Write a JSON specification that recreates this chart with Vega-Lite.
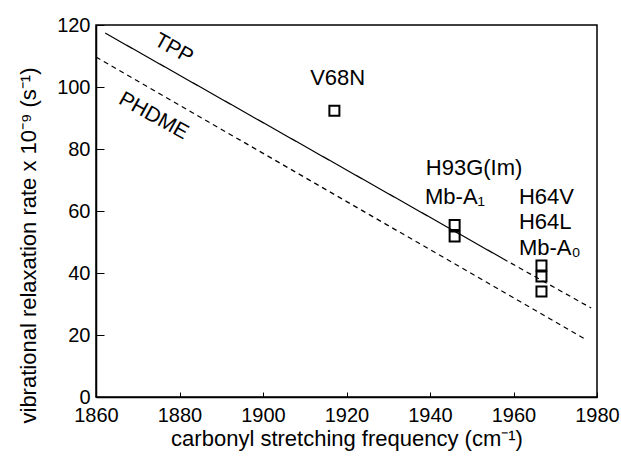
{
  "$schema": "https://vega.github.io/schema/vega-lite/v6.json",
  "width": 501,
  "height": 372,
  "autosize": "none",
  "padding": {"left": 96, "top": 25, "right": 24, "bottom": 65},
  "background": "white",
  "config": {
    "font": "Liberation Sans",
    "view": {"stroke": "black", "strokeWidth": 1.5},
    "axis": {
      "grid": false,
      "domainColor": "black",
      "domainWidth": 1.5,
      "tickColor": "black",
      "tickWidth": 1,
      "labelColor": "black",
      "labelFontSize": 20,
      "labelFont": "Liberation Sans",
      "titleFont": "Liberation Sans",
      "titleFontSize": 22,
      "titleFontWeight": "normal",
      "titleColor": "black",
      "labelFlush": false,
      "labelOverlap": false
    }
  },
  "datasets": {
    "lines": [
      {"segment": "TPP", "style": "solid", "freq": 1862.2, "rate": 117.4},
      {"segment": "TPP", "style": "solid", "freq": 1957.5, "rate": 44.6},
      {"segment": "TPP ext", "style": "dashed", "freq": 1957.5, "rate": 44.6},
      {"segment": "TPP ext", "style": "dashed", "freq": 1978.6, "rate": 28.7},
      {"segment": "PHDME", "style": "dashed", "freq": 1860, "rate": 109.7},
      {"segment": "PHDME", "style": "dashed", "freq": 1977.1, "rate": 18.7}
    ],
    "points": [
      {"sample": "V68N", "freq": 1917.1, "rate": 92.3},
      {"sample": "H93G(Im)", "freq": 1945.9, "rate": 55.5},
      {"sample": "Mb-A1", "freq": 1945.9, "rate": 51.8},
      {"sample": "H64V", "freq": 1966.7, "rate": 42.4},
      {"sample": "H64L", "freq": 1966.7, "rate": 38.9},
      {"sample": "Mb-A0", "freq": 1966.7, "rate": 34.0}
    ],
    "labels": [
      {"label": "V68N", "freq": 1911.3, "rate": 102.9},
      {"label": "H93G(Im)", "freq": 1939.0, "rate": 73.9},
      {"label": "Mb-A₁", "freq": 1938.8, "rate": 64.5},
      {"label": "H64V", "freq": 1961.3, "rate": 64.5},
      {"label": "H64L", "freq": 1961.3, "rate": 56.3},
      {"label": "Mb-A₀", "freq": 1961.3, "rate": 48.2}
    ],
    "lineLabels": [
      {"label": "TPP", "freq": 1878.6, "rate": 112.3},
      {"label": "PHDME", "freq": 1873.8, "rate": 90.6}
    ]
  },
  "layer": [
    {
      "data": {"name": "lines"},
      "mark": {"type": "line", "color": "black", "strokeWidth": 1.2},
      "encoding": {
        "x": {
          "field": "freq", "type": "quantitative",
          "scale": {"domain": [1860, 1980], "nice": false, "zero": false},
          "axis": {
            "values": [1860, 1880, 1900, 1920, 1940, 1960, 1980],
            "format": "d",
            "tickSize": -5, "labelPadding": 13,
            "title": "carbonyl stretching frequency (cm⁻¹)",
            "titleY": 48, "titleBaseline": "alphabetic"
          }
        },
        "y": {
          "field": "rate", "type": "quantitative",
          "scale": {"domain": [0, 120], "nice": false},
          "axis": {
            "values": [0, 20, 40, 60, 80, 100, 120],
            "tickSize": -8, "labelPadding": 14,
            "title": "vibrational relaxation rate x 10⁻⁹ (s⁻¹)",
            "titleX": -61, "titleY": 220, "titleBaseline": "alphabetic", "titleAlign": "center", "titleAngle": -90
          }
        },
        "detail": {"field": "segment"},
        "strokeDash": {
          "field": "style", "type": "nominal",
          "scale": {"domain": ["solid", "dashed"], "range": [[1, 0], [5, 4]]},
          "legend": null
        }
      }
    },
    {
      "data": {"name": "points"},
      "mark": {"type": "point", "shape": "square", "filled": false, "stroke": "black", "strokeWidth": 2, "size": 100, "opacity": 1},
      "encoding": {
        "x": {"field": "freq", "type": "quantitative"},
        "y": {"field": "rate", "type": "quantitative"}
      }
    },
    {
      "data": {"name": "labels"},
      "mark": {"type": "text", "align": "left", "baseline": "middle", "fontSize": 22, "color": "black", "font": "Liberation Sans"},
      "encoding": {
        "x": {"field": "freq", "type": "quantitative"},
        "y": {"field": "rate", "type": "quantitative"},
        "text": {"field": "label"}
      }
    },
    {
      "data": {"name": "lineLabels"},
      "mark": {"type": "text", "align": "center", "baseline": "middle", "fontSize": 21, "angle": 29, "color": "black", "font": "Liberation Sans"},
      "encoding": {
        "x": {"field": "freq", "type": "quantitative"},
        "y": {"field": "rate", "type": "quantitative"},
        "text": {"field": "label"}
      }
    }
  ]
}
